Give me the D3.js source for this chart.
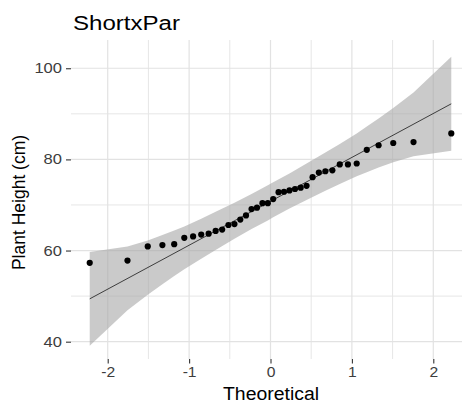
<!DOCTYPE html>
<html>
<head>
<meta charset="utf-8">
<script src="https://d3js.org/d3.v7.min.js"></script>
<style>
  body { margin: 0; background: #fff; }
  svg { display: block; font-family: "Liberation Sans", Arial, sans-serif; }
</style>
</head>
<body>
<svg width="462" height="403"></svg>
<script>
// theoretical normal quantiles and sample heights (n = 38)
var theoretical = [-2.221, -1.757, -1.508, -1.328, -1.183, -1.059, -0.951, -0.851, -0.760, -0.674,
  -0.594, -0.517, -0.443, -0.371, -0.301, -0.233, -0.166, -0.099, -0.033, 0.033,
  0.099, 0.166, 0.233, 0.301, 0.371, 0.443, 0.517, 0.594, 0.674, 0.760,
  0.851, 0.951, 1.059, 1.183, 1.328, 1.508, 1.757, 2.221];
var heights = [57.3, 57.8, 60.9, 61.2, 61.4, 62.8, 63.1, 63.5, 63.7, 64.3,
  64.6, 65.6, 65.8, 66.8, 67.7, 69.1, 69.4, 70.4, 70.4, 71.3,
  72.8, 72.9, 73.2, 73.5, 73.8, 74.2, 76.1, 77.1, 77.4, 77.6,
  78.9, 78.9, 79.1, 82.1, 83.1, 83.6, 83.8, 85.7];

// reference line end points
var lineX = [-2.221, 2.221];
var lineY = [49.4, 92.2];

// confidence band
var bandX = [-2.221, -1.757, -1.508, -1.328, -1.183, -1.059, -0.851, -0.674, -0.443, -0.233, -0.033,
  0.033, 0.233, 0.443, 0.674, 0.851, 1.059, 1.183, 1.328, 1.508, 1.757, 2.221];
var bandLower = [39.1, 46.9, 50.3, 52.6, 54.4, 55.9, 58.2, 60.1, 62.6, 64.7, 66.6,
  67.3, 69.2, 71.1, 73.1, 74.6, 76.3, 77.2, 78.2, 79.4, 80.7, 81.9];
var bandUpper = [59.7, 60.9, 62.2, 63.4, 64.4, 65.3, 67.0, 68.5, 70.5, 72.4, 74.3,
  75.0, 76.9, 79.1, 81.5, 83.4, 85.7, 87.2, 89.0, 91.3, 94.7, 102.5];

var xTicks = [-2, -1, 0, 1, 2];
var xMinor = [-1.5, -0.5, 0.5, 1.5];
var yTicks = [40, 60, 80, 100];
var yMinor = [50, 70, 90];

var svg = d3.select("svg");
var pLeft = 71, pRight = 470, pTop = 40, pBottom = 359;

var x = d3.scaleLinear().domain([-2.451, 2.451]).range([pLeft, pRight]);
var y = d3.scaleLinear().domain([36.2, 106.2]).range([pBottom, pTop]);

var grid = svg.append("g");
grid.selectAll(".vmin").data(xMinor).join("line")
    .attr("x1", d => x(d)).attr("x2", d => x(d))
    .attr("y1", pTop).attr("y2", pBottom)
    .attr("stroke", "#e6e6e6").attr("stroke-width", 1);
grid.selectAll(".hmin").data(yMinor).join("line")
    .attr("y1", d => y(d)).attr("y2", d => y(d))
    .attr("x1", pLeft).attr("x2", pRight)
    .attr("stroke", "#e6e6e6").attr("stroke-width", 1);
grid.selectAll(".vmaj").data(xTicks).join("line")
    .attr("x1", d => x(d)).attr("x2", d => x(d))
    .attr("y1", pTop).attr("y2", pBottom)
    .attr("stroke", "#e2e2e2").attr("stroke-width", 1.2);
grid.selectAll(".hmaj").data(yTicks).join("line")
    .attr("y1", d => y(d)).attr("y2", d => y(d))
    .attr("x1", pLeft).attr("x2", pRight)
    .attr("stroke", "#e2e2e2").attr("stroke-width", 1.2);

// band
var bandData = bandX.map((d, i) => ({x: d, lo: bandLower[i], hi: bandUpper[i]}));
svg.append("path")
    .datum(bandData)
    .attr("d", d3.area().x(d => x(d.x)).y0(d => y(d.lo)).y1(d => y(d.hi)))
    .attr("fill", "#a6a6a6")
    .attr("fill-opacity", 0.6);

// reference line
svg.append("line")
    .attr("x1", x(lineX[0])).attr("y1", y(lineY[0]))
    .attr("x2", x(lineX[1])).attr("y2", y(lineY[1]))
    .attr("stroke", "#000").attr("stroke-width", 0.7);

// points
svg.selectAll(".pt")
    .data(theoretical.map((d, i) => [d, heights[i]]))
    .join("circle")
    .attr("cx", d => x(d[0]))
    .attr("cy", d => y(d[1]))
    .attr("r", 3.1)
    .attr("fill", "#000");

// axes
var xAxis = svg.append("g")
    .attr("transform", "translate(0," + pBottom + ")")
    .call(d3.axisBottom(x).tickValues(xTicks).tickSize(4.5).tickPadding(4).tickFormat(d3.format("d")));
var yAxis = svg.append("g")
    .attr("transform", "translate(" + pLeft + ",0)")
    .call(d3.axisLeft(y).tickValues(yTicks).tickSize(5).tickPadding(4));

[xAxis, yAxis].forEach(function(a) {
  a.select(".domain").remove();
  a.selectAll(".tick line").attr("stroke", "#333").attr("stroke-width", 1.1);
  a.selectAll(".tick text").attr("fill", "#3d3d3d").attr("font-size", 14)
      .attr("font-family", "Liberation Sans, Arial, sans-serif");
});
xAxis.selectAll(".tick text").text(d => d < 0 ? "-" + Math.abs(d) : d)
    .attr("transform", "scale(1.12,1)");
yAxis.selectAll(".tick text")
    .attr("textLength", d => String(d).length * 9.2)
    .attr("lengthAdjust", "spacingAndGlyphs");

// titles
svg.append("text")
    .attr("x", 73).attr("y", 30)
    .attr("font-size", 20)
    .attr("textLength", 107).attr("lengthAdjust", "spacingAndGlyphs")
    .attr("fill", "#000")
    .text("ShortxPar");

svg.append("text")
    .attr("x", 271).attr("y", 399.5)
    .attr("text-anchor", "middle")
    .attr("font-size", 18)
    .attr("textLength", 96).attr("lengthAdjust", "spacingAndGlyphs")
    .attr("fill", "#000")
    .text("Theoretical");

svg.append("text")
    .attr("transform", "translate(25,202.5) rotate(-90)")
    .attr("text-anchor", "middle")
    .attr("font-size", 17.5)
    .attr("fill", "#000")
    .text("Plant Height (cm)");
</script>
</body>
</html>
